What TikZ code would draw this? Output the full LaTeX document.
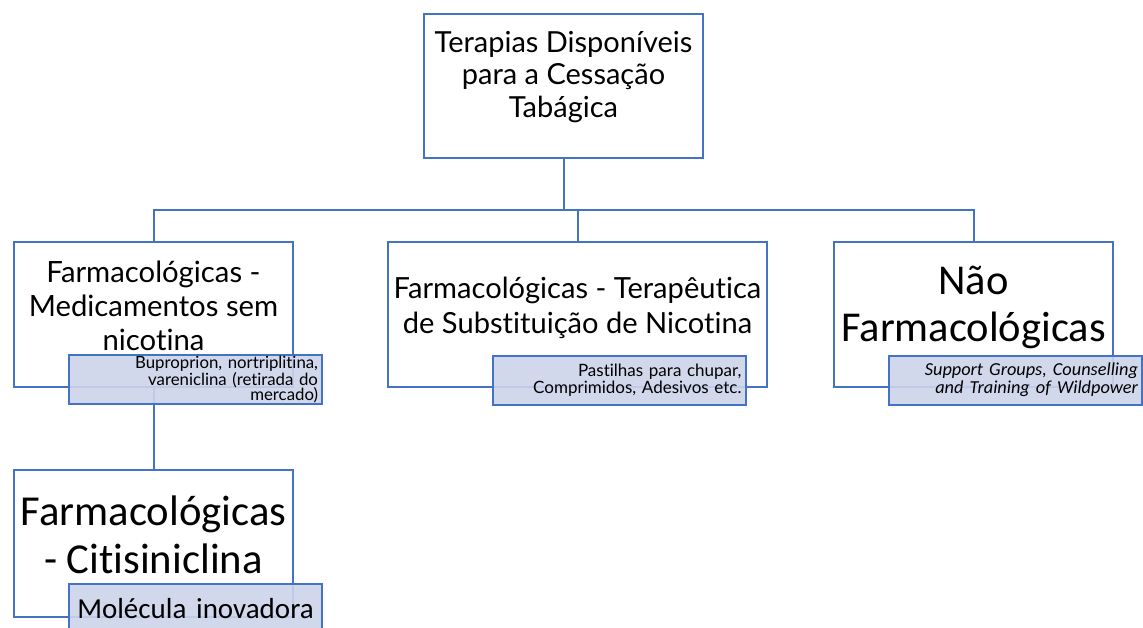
\documentclass[tikz,border=0pt]{standalone}
\usepackage{fontspec}
\setmainfont{Lato}[Ligatures=NoCommon]
\newfontfamily\calibri{Carlito}[Ligatures=NoCommon]
\usetikzlibrary{positioning}
\definecolor{azul}{HTML}{4472C4}
\definecolor{lilas}{HTML}{CDD4EA}
\tikzset{
	caixa/.style={
		rectangle,
		draw=azul, line width=2pt,
		fill=white,
		minimum width=279pt,
		minimum height=145pt,
		inner sep=0pt,
		text depth=18pt,
		align=center},
	subcaixa/.style={
		rectangle,
		draw=azul, line width=2pt,
		fill=lilas, fill opacity=0.9, text opacity=1,
		text width=245pt,
		inner xsep=4pt, inner ysep=1pt,
		minimum height=49pt,
		align=right},
	ligacao/.style={draw=azul, line width=2pt},
}

\begin{document}
\begin{tikzpicture}[x=1pt,y=-1pt]
	\useasboundingbox (0,0) rectangle (1143,628);
	% caixa de topo
	\node[caixa, minimum height=144pt, text depth=24pt, font=\fontsize{29}{32.5}\selectfont] (terapias) at (563.5,86)
		{Terapias Disponíveis\\para a Cessação\\Tabágica};
	% ramos
	\node[caixa, text depth=17pt, font=\fontsize{29.3}{34}\selectfont] (semnic) at (153.5,314.5)
		{Farmacológicas -\\Medicamentos sem\\nicotina};
	\node[caixa, minimum width=379pt, font=\fontsize{29.1}{35}\selectfont] (substit) at (577.5,314.5)
		{Farmacológicas - Terapêutica\\de Substituição de Nicotina};
	\node[caixa, text depth=22pt, font=\calibri\fontsize{42.5}{47}\selectfont] (naofarm) at (973.5,314.5)
		{Não\\Farmacológicas};
	\node[caixa, minimum height=147pt, font=\calibri\fontsize{42.7}{48}\selectfont] (citis) at (153.5,543.5)
		{Farmacológicas\\- Citisiniclina};
	% ligacoes
	\coordinate (ramo) at (563.5,210);
	\draw[ligacao] (terapias.south) -- (ramo) -| (semnic.north);
	\draw[ligacao] (ramo) -| (substit.north);
	\draw[ligacao] (ramo) -| (naofarm.north);
	\draw[ligacao] (semnic.south) -- (citis.north);
	% notas
	\node[subcaixa, font=\fontsize{16.8}{15.8}\selectfont] (semnicnota) at (195.5,379.5)
		{Buproprion, nortriplitina,\\vareniclina (retirada do\\mercado)};
	\node[subcaixa, font=\fontsize{17}{17}\selectfont] (substitnota) at (619,380)
		{Pastilhas para chupar,\\Comprimidos, Adesivos etc.};
	\node[subcaixa, font=\calibri\itshape\fontsize{18.3}{18}\selectfont] (naofarmnota) at (1015.5,380)
		{Support Groups, Counselling\\and Training of Wildpower};
	\node[subcaixa, align=center, font=\calibri\fontsize{29}{30}\selectfont] (citisnota) at (195.5,608.5)
		{Molécula inovadora};
\end{tikzpicture}
\end{document}
